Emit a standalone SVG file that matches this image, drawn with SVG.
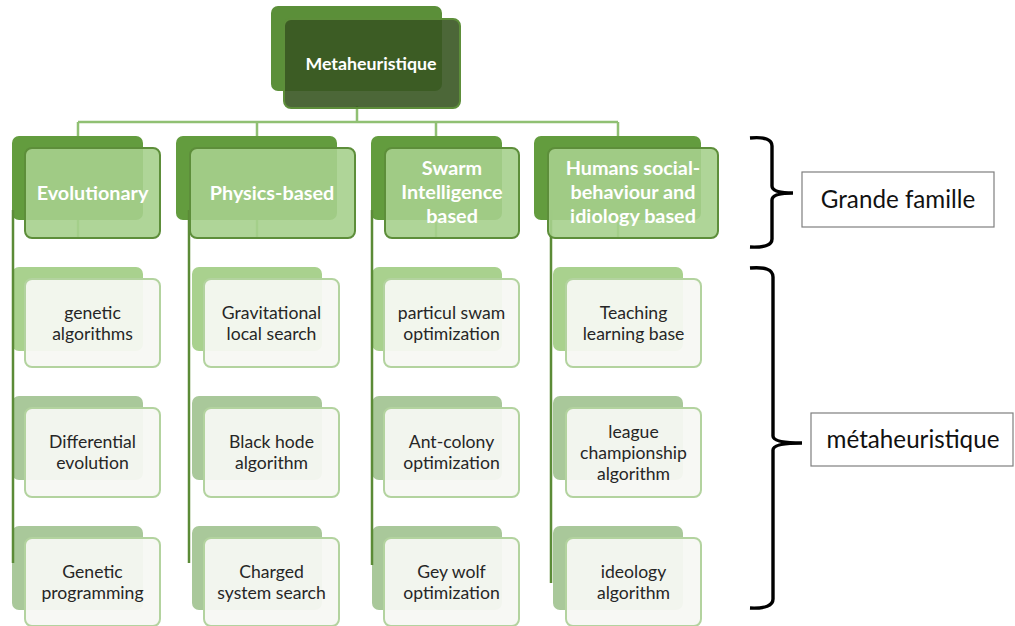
<svg xmlns="http://www.w3.org/2000/svg" width="1015" height="626" viewBox="0 0 1015 626">
  <style>
    .top-back{fill:#5b8f39}
    .top-front{fill:#385622;fill-opacity:.9;stroke:#5d8e3a;stroke-width:2}
    .cat-back{fill:#639c3e}
    .cat-front{fill:#a6d08d;fill-opacity:.9;stroke:#5d8e3a;stroke-width:2}
    .leaf-back1{fill:#a9d18e}
    .leaf-back{fill:#a9c89a}
    .leaf-front{fill:#f6f8f3;fill-opacity:.94;stroke:#b3d39f;stroke-width:2}
    .conn{stroke:#90c073;stroke-width:2.5;fill:none}
    .rail{stroke:#5b8b37;stroke-width:2.5;fill:none}
    .t-top{font-family:Lato,"Liberation Sans",sans-serif;font-weight:bold;font-size:17.8px;fill:#ffffff;text-anchor:middle}
    .t-cat{font-family:Lato,"Liberation Sans",sans-serif;font-weight:bold;font-size:19.8px;fill:#ffffff;text-anchor:middle}
    .t-leaf{font-family:Lato,"Liberation Sans",sans-serif;font-size:17.6px;fill:#262626;text-anchor:middle}
    .t-label{font-family:Lato,"Liberation Sans",sans-serif;font-size:24.2px;fill:#111111;text-anchor:middle}
    .brace{stroke:#000000;stroke-width:3.4;fill:none;stroke-linejoin:miter}
    .label-box{fill:#ffffff;stroke:#7f7f7f;stroke-width:1.2}
  </style>

  <!-- tree connectors -->
  <g id="connectors">
    <path class="conn" d="M357 106 V122 M78 122 H618 M78 122 V238 M257 122 V238 M436 122 V238 M618 122 V238"/>
  </g>

  <!-- root -->
  <g id="node-root">
    <rect class="top-back" x="271" y="6" width="171" height="85" rx="7"/>
    <rect class="top-front" x="284" y="19" width="176" height="89" rx="7"/>
    <text class="t-top" x="371" y="70">Metaheuristique</text>
  </g>

  <!-- family back plates -->
  <g id="family-plates">
    <rect class="cat-back" x="12" y="136" width="131" height="84" rx="7"/>
    <rect class="cat-back" x="176" y="136" width="161" height="84" rx="7"/>
    <rect class="cat-back" x="371" y="136" width="131" height="84" rx="7"/>
    <rect class="cat-back" x="534" y="136" width="167" height="84" rx="7"/>
  </g>

  <!-- leaf back plates -->
  <g id="leaf-plates">
    <rect class="leaf-back1" x="12" y="267" width="131" height="84" rx="7"/>
    <rect class="leaf-back" x="12" y="396" width="131" height="84" rx="7"/>
    <rect class="leaf-back" x="12" y="526" width="131" height="84" rx="7"/>
    <rect class="leaf-back1" x="192" y="267" width="130" height="84" rx="7"/>
    <rect class="leaf-back" x="192" y="396" width="130" height="84" rx="7"/>
    <rect class="leaf-back" x="192" y="526" width="130" height="84" rx="7"/>
    <rect class="leaf-back1" x="372" y="267" width="130" height="84" rx="7"/>
    <rect class="leaf-back" x="372" y="396" width="130" height="84" rx="7"/>
    <rect class="leaf-back" x="372" y="526" width="130" height="84" rx="7"/>
    <rect class="leaf-back1" x="553" y="267" width="130" height="84" rx="7"/>
    <rect class="leaf-back" x="553" y="396" width="130" height="84" rx="7"/>
    <rect class="leaf-back" x="553" y="526" width="130" height="84" rx="7"/>
  </g>

  <!-- column rails -->
  <g id="rails">
    <path class="rail" d="M13 210 V563 M189 210 V563 M372 210 V565 M551 210 V583"/>
  </g>

  <!-- families -->
  <g id="node-evolutionary">
    <rect class="cat-front" x="25" y="148" width="135" height="90" rx="7"/>
    <text class="t-cat" x="92.5" y="200">Evolutionary</text>
  </g>
  <g id="node-physics">
    <rect class="cat-front" x="190" y="148" width="165" height="90" rx="7"/>
    <text class="t-cat" x="272" y="200">Physics-based</text>
  </g>
  <g id="node-swarm">
    <rect class="cat-front" x="385" y="148" width="134" height="90" rx="7"/>
    <text class="t-cat" x="452" y="175">Swarm</text>
    <text class="t-cat" x="452" y="199">Intelligence</text>
    <text class="t-cat" x="452" y="223">based</text>
  </g>
  <g id="node-humans">
    <rect class="cat-front" x="548" y="148" width="170" height="90" rx="7"/>
    <text class="t-cat" x="633" y="175">Humans social-</text>
    <text class="t-cat" x="633" y="199">behaviour and</text>
    <text class="t-cat" x="633" y="223">idiology based</text>
  </g>

  <!-- Evolutionary leaves -->
  <g id="leaf-genetic-algorithms">
    <rect class="leaf-front" x="25" y="279" width="135" height="88" rx="7"/>
    <text class="t-leaf" x="92.5" y="318.5">genetic</text>
    <text class="t-leaf" x="92.5" y="339.5">algorithms</text>
  </g>
  <g id="leaf-differential-evolution">
    <rect class="leaf-front" x="25" y="408" width="135" height="89" rx="7"/>
    <text class="t-leaf" x="92.5" y="448">Differential</text>
    <text class="t-leaf" x="92.5" y="469">evolution</text>
  </g>
  <g id="leaf-genetic-programming">
    <rect class="leaf-front" x="25" y="538" width="135" height="88" rx="7"/>
    <text class="t-leaf" x="92.5" y="577.5">Genetic</text>
    <text class="t-leaf" x="92.5" y="598.5">programming</text>
  </g>

  <!-- Physics-based leaves -->
  <g id="leaf-gravitational">
    <rect class="leaf-front" x="204" y="279" width="135" height="88" rx="7"/>
    <text class="t-leaf" x="271.5" y="318.5">Gravitational</text>
    <text class="t-leaf" x="271.5" y="339.5">local search</text>
  </g>
  <g id="leaf-black-hole">
    <rect class="leaf-front" x="204" y="408" width="135" height="89" rx="7"/>
    <text class="t-leaf" x="271.5" y="448">Black hode</text>
    <text class="t-leaf" x="271.5" y="469">algorithm</text>
  </g>
  <g id="leaf-charged-system">
    <rect class="leaf-front" x="204" y="538" width="135" height="88" rx="7"/>
    <text class="t-leaf" x="271.5" y="577.5">Charged</text>
    <text class="t-leaf" x="271.5" y="598.5">system search</text>
  </g>

  <!-- Swarm leaves -->
  <g id="leaf-pso">
    <rect class="leaf-front" x="384" y="279" width="135" height="88" rx="7"/>
    <text class="t-leaf" x="451.5" y="318.5">particul swam</text>
    <text class="t-leaf" x="451.5" y="339.5">optimization</text>
  </g>
  <g id="leaf-ant-colony">
    <rect class="leaf-front" x="384" y="408" width="135" height="89" rx="7"/>
    <text class="t-leaf" x="451.5" y="448">Ant-colony</text>
    <text class="t-leaf" x="451.5" y="469">optimization</text>
  </g>
  <g id="leaf-grey-wolf">
    <rect class="leaf-front" x="384" y="538" width="135" height="88" rx="7"/>
    <text class="t-leaf" x="451.5" y="577.5">Gey wolf</text>
    <text class="t-leaf" x="451.5" y="598.5">optimization</text>
  </g>

  <!-- Human-behaviour leaves -->
  <g id="leaf-teaching">
    <rect class="leaf-front" x="566" y="279" width="135" height="88" rx="7"/>
    <text class="t-leaf" x="633.5" y="318.5">Teaching</text>
    <text class="t-leaf" x="633.5" y="339.5">learning base</text>
  </g>
  <g id="leaf-league">
    <rect class="leaf-front" x="566" y="408" width="135" height="89" rx="7"/>
    <text class="t-leaf" x="633.5" y="437.5">league</text>
    <text class="t-leaf" x="633.5" y="458.5">championship</text>
    <text class="t-leaf" x="633.5" y="479.5">algorithm</text>
  </g>
  <g id="leaf-ideology">
    <rect class="leaf-front" x="566" y="538" width="135" height="88" rx="7"/>
    <text class="t-leaf" x="633.5" y="577.5">ideology</text>
    <text class="t-leaf" x="633.5" y="598.5">algorithm</text>
  </g>

  <!-- level annotations -->
  <g id="brace-families">
    <path class="brace" d="M750 138 Q772 136 772 146 V186 Q772 193 793 193 Q772 193 772 200 V239 Q772 248 750 247"/>
    <rect class="label-box" x="802" y="172" width="192" height="55"/>
    <text class="t-label" x="898" y="208">Grande famille</text>
  </g>
  <g id="brace-methods">
    <path class="brace" d="M750 268 Q773 266 773 277 V436 Q773 443 802 443 Q773 443 773 450 V599 Q773 609 750 608"/>
    <rect class="label-box" x="811" y="413" width="202" height="53"/>
    <text class="t-label" x="913" y="448">métaheuristique</text>
  </g>
</svg>
